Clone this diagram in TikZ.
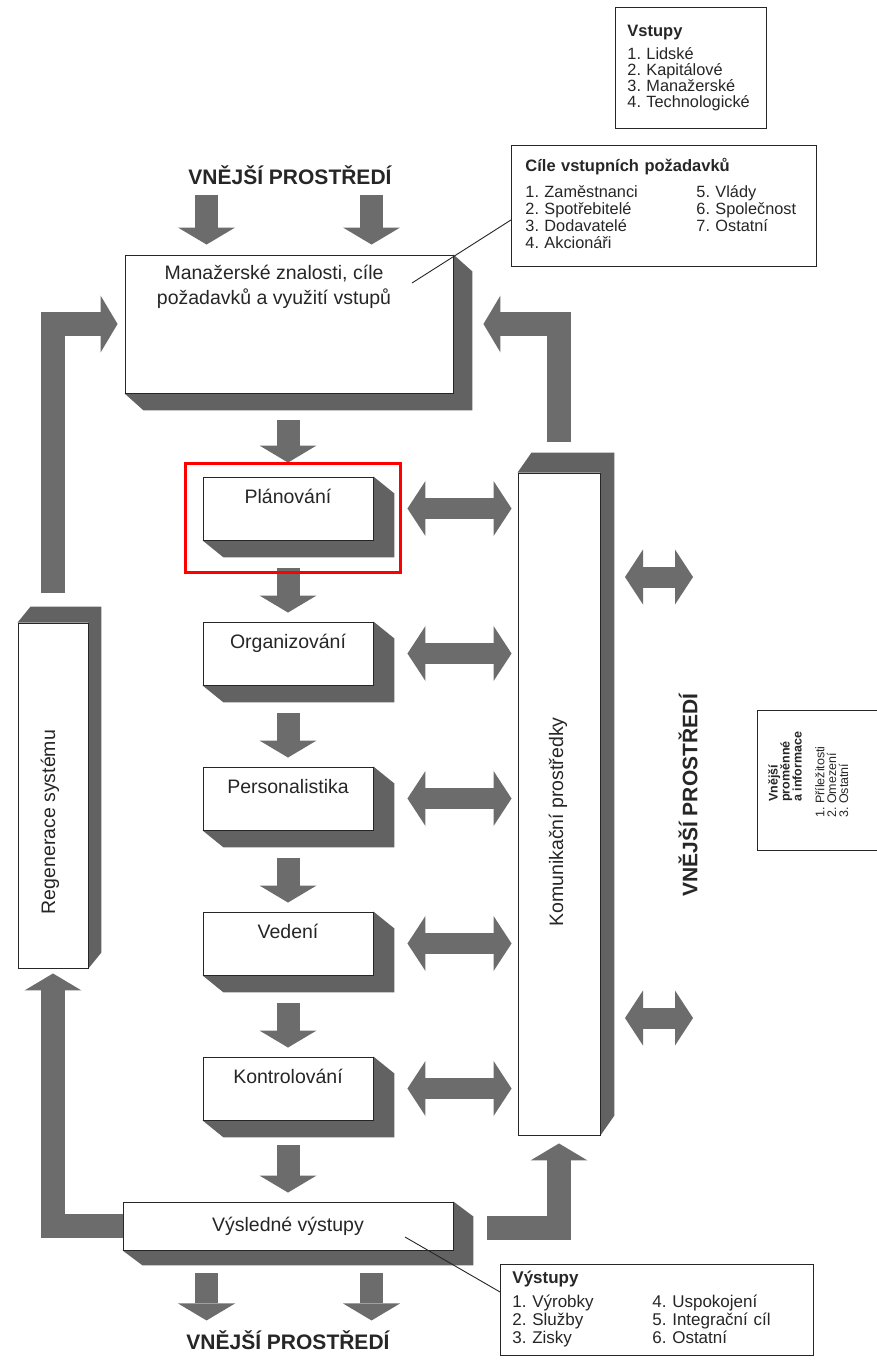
\documentclass[tikz,border=0pt]{standalone}
\usepackage{fontspec}
\setmainfont{Liberation Sans}
\usetikzlibrary{arrows.meta,calc,positioning,backgrounds}
\frenchspacing

\definecolor{arrowgray}{RGB}{108,108,108}
\definecolor{shadegray}{RGB}{98,98,98}
\definecolor{inkgray}{RGB}{38,38,38}

\newcommand\lblfont{\fontsize{19.5}{25}\selectfont}
\newcommand\itemfont{\fontsize{16.3}{16.2}\selectfont}
\newcommand\ttlfont{\fontsize{16.5}{18}\selectfont\bfseries}
\newcommand\envfont{\fontsize{21}{24}\selectfont\bfseries}

% shadow below and right of a box
\newcommand\dropshade[3]{%
  \fill[shadegray] (#1.north east) -- ++(#2,#3) -- ($(#1.south east)+(#2,#3)$)
    -- ($(#1.south west)+(#2,#3)$) -- (#1.south west) -- (#1.south east) -- cycle;}
% shadow above and right of a box
\newcommand\riseshade[3]{%
  \fill[shadegray] (#1.north west) -- ++(#2,-#3) -- ($(#1.north east)+(#2,-#3)$)
    -- ($(#1.south east)+(#2,-#3)$) -- (#1.south east) -- (#1.north east) -- cycle;}

\tikzset{
  box/.style={draw=inkgray, line width=0.9pt, fill=white},
  stage/.style={box, minimum width=170pt, inner ysep=0pt, text height=26.5pt,
    text depth=36.5pt, font=\lblfont},
  infobox/.style={draw=inkgray, line width=0.9pt, align=left, font=\itemfont},
  fat/.style={draw=arrowgray, line width=23pt,
    -{Triangle[length=17pt,width=57pt,line width=0pt]}},
  looparrow/.style={fat, line width=24pt, line join=miter},
  twoway/.style={draw=arrowgray, line width=21pt,
    {Triangle[length=18pt,width=55pt,line width=0pt]}-{Triangle[length=18pt,width=55pt,line width=0pt]}},
  pointer/.style={draw=inkgray, line width=0.9pt},
  highlight/.style={draw=red, line width=3.5pt}
}

\begin{document}
\begin{tikzpicture}[x=1pt,y=-1pt, every node/.append style={text=inkgray}]
\useasboundingbox (0,0) rectangle (877,1363);

% main column
\node[box, minimum width=328pt, minimum height=138pt] (mgmt) at (289,324) {};
\node[font=\lblfont, align=center] (mgmt-t) at (274,287)
  {Manažerské znalosti, cíle\\požadavků a využití vstupů};

\foreach \nm/\txt [count=\i from 0] in {plan/Plánování, org/Organizování,
    pers/Personalistika, ved/Vedení, kon/Kontrolování}
  \node[stage] (\nm) at (288,508.5+145*\i) {\txt};

\node[box, minimum width=330pt, minimum height=48pt, font=\lblfont] (out) at (288,1226)
  {Výsledné výstupy};

% side boxes
\node[box, minimum width=70pt, minimum height=345pt] (regen) at (53,795.5) {};
\node[font=\lblfont, rotate=90] (regen-t) at (50,822) {Regenerace systému};
\node[box, minimum width=82pt, minimum height=662pt] (kom) at (559,804) {};
\node[font=\lblfont, rotate=90] (kom-t) at (558,822) {Komunikační prostředky};

% environment
\node[font=\envfont] (env-top) at (290,175) {VNĚJŠÍ PROSTŘEDÍ};
\node[font=\envfont] (env-bot) at (288,1340) {VNĚJŠÍ PROSTŘEDÍ};
\node[font=\envfont, rotate=90] (env-right) at (688,795) {VNĚJŠÍ PROSTŘEDÍ};

% info boxes
\node[infobox, anchor=north west, text width=127pt, minimum height=121pt,
  inner xsep=12pt] (inputs) at (615,7)
  {{\ttlfont Vstupy}\\[7pt]
   1. Lidské\\2. Kapitálové\\3. Manažerské\\4. Technologické};

\node[infobox, anchor=north west, text width=277pt, minimum height=121pt,
  inner xsep=14pt] (goals) at (511,145)
  {\begin{tabular}{@{}p{171pt}@{}l@{}}
   \multicolumn{2}{@{}l@{}}{\ttlfont Cíle vstupních požadavků}\\[9pt]
   1. Zaměstnanci & 5. Vlády\\
   2. Spotřebitelé & 6. Společnost\\
   3. Dodavatelé & 7. Ostatní\\
   4. Akcionáři &
   \end{tabular}};

\node[infobox, anchor=north west, text width=289pt, minimum height=91pt,
  inner xsep=12pt, font=\fontsize{17}{17.5}\selectfont] (outputs) at (500,1264)
  {\begin{tabular}{@{}p{140pt}@{}l@{}}
   \multicolumn{2}{@{}l@{}}{\fontsize{17}{18}\selectfont\bfseries Výstupy}\\[6pt]
   1. Výrobky & 4. Uspokojení\\
   2. Služby & 5. Integrační cíl\\
   3. Zisky & 6. Ostatní
   \end{tabular}};

\node[draw=inkgray, line width=0.9pt, anchor=north west, minimum width=128pt,
  minimum height=140pt] (vars) at (757,710) {};
\node[rotate=90, anchor=north west, align=left, inner sep=0pt,
  font=\fontsize{12.5}{12}\selectfont\bfseries] (vars-h) at (768,802)
  {Vnější\\proměnné\\a informace};
\node[rotate=90, anchor=north west, align=left, inner sep=0pt,
  font=\fontsize{12.5}{11.8}\selectfont] (vars-l) at (815,818)
  {1. Příležitosti\\2. Omezení\\3. Ostatní};

% shadows
\begin{scope}[on background layer]
  \fill[white] (0,0) rectangle (877,1363);
  \dropshade{mgmt}{19}{17}
  \foreach \nm in {plan,org,pers,ved,kon} {\dropshade{\nm}{21}{17}}
  \dropshade{out}{20}{15}
  \riseshade{regen}{13}{16}
  \riseshade{kom}{14}{20}
\end{scope}

% flow arrows
\draw[fat] ($(mgmt.north west)+(82,-60)$) -- ($(mgmt.north west)+(82,-10)$);
\draw[fat] ($(mgmt.north west)+(247,-60)$) -- ($(mgmt.north west)+(247,-10)$);
\draw[fat] ($(plan.north)+(0,-57)$) -- ($(plan.north)+(0,-14)$);
\foreach \a/\b in {plan/org, org/pers, pers/ved, ved/kon}
  \draw[fat] ($(\a.south)+(0,28)$) -- ($(\b.north)+(0,-9)$);
\draw[fat] ($(kon.south)+(0,25)$) -- ($(out.north)+(0,-9)$);
\draw[fat] ($(out.south west)+(84,23)$) -- ($(out.south west)+(84,70)$);
\draw[fat] ($(out.south west)+(249,23)$) -- ($(out.south west)+(249,70)$);

\foreach \a in {plan,org,pers,ved,kon}
  \draw[twoway] ($(\a.east)+(34,0)$) -- ($(\a.east -| kom.west)+(-6,0)$);

\coordinate (ext-a1) at (625,577);
\coordinate (ext-a2) at (693,577);
\coordinate (ext-b1) at (625,1018);
\coordinate (ext-b2) at (693,1018);
\draw[twoway] (ext-a1) -- (ext-a2);
\draw[twoway] (ext-b1) -- (ext-b2);

% feedback loops
\draw[looparrow] ($(regen.north)+(0,-30)$) |- ($(mgmt.west)+(-7,0)$);
\draw[looparrow] (out.west) -| ($(regen.south)+(0,5)$);
\draw[looparrow] ($(kom.north)+(0,-31)$) |- ($(mgmt.east)+(30,0)$);
\draw[looparrow] ($(out.east)+(34,2)$) -| ($(kom.south)+(0,8)$);

% callout lines
\coordinate (mgmt-pt) at (412,283);
\coordinate (out-pt) at (405,1237);
\draw[pointer] ($(goals.west)+(0,14)$) -- (mgmt-pt);
\draw[pointer] (out-pt) -- ($(outputs.west)+(0,-18)$);

\draw[highlight] ($(plan.north west)+(-17,-13)$) rectangle ($(plan.south east)+(27,32)$);
\end{tikzpicture}
\end{document}
